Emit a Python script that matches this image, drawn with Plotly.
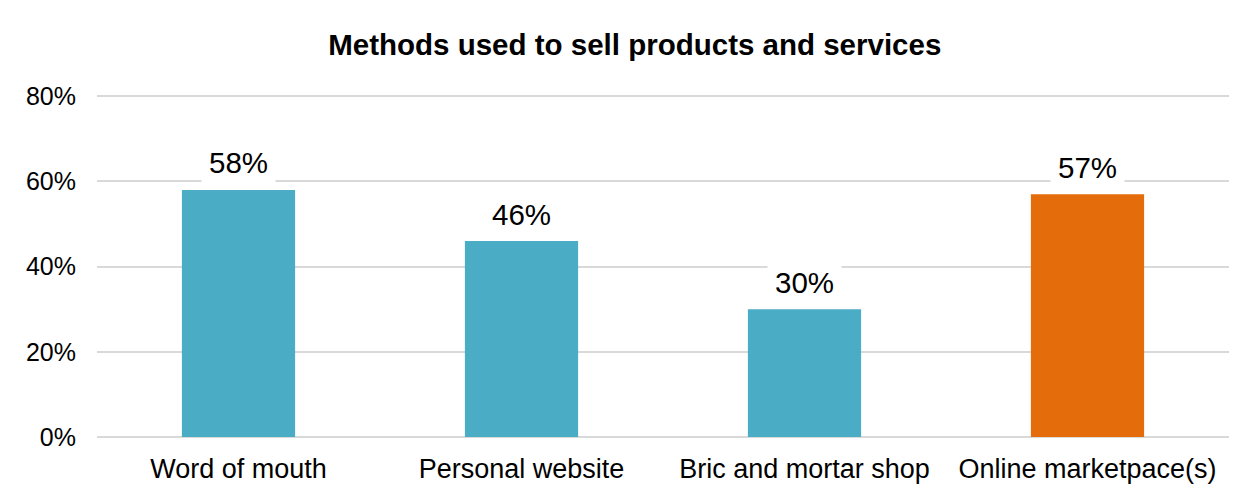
import plotly.graph_objects as go

categories = ["Word of mouth", "Personal website", "Bric and mortar shop", "Online marketpace(s)"]
shares = [0.58, 0.46, 0.30, 0.57]
bar_colors = ["#4BACC6", "#4BACC6", "#4BACC6", "#E46C0A"]
y_ticks = [0, 0.2, 0.4, 0.6, 0.8]

FONT = "Liberation Sans, Arial, sans-serif"

fig = go.Figure(
    go.Bar(
        x=categories,
        y=shares,
        marker=dict(color=bar_colors, line=dict(width=0)),
        width=0.4,
        hoverinfo="skip",
    )
)

# value labels on white boxes above each bar
for cat, val in zip(categories, shares):
    fig.add_annotation(
        x=cat, y=val, xref="x", yref="y",
        text=f"{round(val * 100)}%",
        showarrow=False,
        yanchor="middle", yshift=27,
        bgcolor="white", borderpad=7,
        font=dict(family=FONT, size=29.5, color="#000000"),
    )

fig.update_layout(
    width=1257, height=498,
    margin=dict(l=97, r=28, t=92, b=61),
    paper_bgcolor="white", plot_bgcolor="white",
    showlegend=False,
    title=dict(
        text="<b>Methods used to sell products and services</b>",
        x=0.505, xref="container", xanchor="center",
        y=1 - 45 / 498, yref="container", yanchor="middle",
        font=dict(family=FONT, size=29.5, color="#000000"),
    ),
    xaxis=dict(
        showgrid=False, showline=False, ticks="",
        tickfont=dict(family=FONT, size=27, color="#000000"),
        ticklabelstandoff=13,
    ),
    yaxis=dict(
        range=[0, 0.81], tickvals=y_ticks, tickformat=".0%",
        showgrid=True, gridcolor="#D9D9D9", gridwidth=1.5,
        zeroline=True, zerolinecolor="#D9D9D9", zerolinewidth=1.5,
        showline=False, ticks="",
        tickfont=dict(family=FONT, size=25, color="#000000"),
        ticklabelstandoff=20,
    ),
)

fig.write_html("out.html")
